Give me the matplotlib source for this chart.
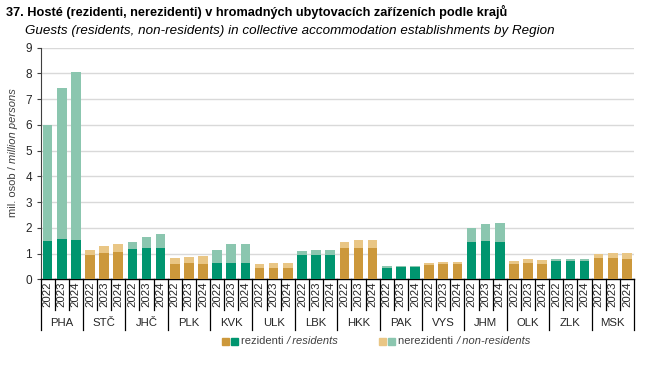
import matplotlib
matplotlib.use('Agg')
import matplotlib.pyplot as plt
import matplotlib.transforms as mtransforms
from matplotlib.patches import Rectangle
import numpy as np

regions = ['PHA', 'STČ', 'JHČ', 'PLK', 'KVK', 'ULK', 'LBK',
           'HKK', 'PAK', 'VYS', 'JHM', 'OLK', 'ZLK', 'MSK']
years = ['2022', '2023', '2024']

# mil. osob, per region: 2022, 2023, 2024
residents = [
    [1.47, 1.57, 1.54],
    [0.96, 1.02, 1.06],
    [1.19, 1.21, 1.23],
    [0.58, 0.62, 0.58],
    [0.64, 0.64, 0.64],
    [0.42, 0.42, 0.42],
    [0.96, 0.96, 0.96],
    [1.21, 1.23, 1.21],
    [0.43, 0.47, 0.47],
    [0.57, 0.60, 0.58],
    [1.45, 1.49, 1.43],
    [0.61, 0.65, 0.61],
    [0.71, 0.71, 0.71],
    [0.83, 0.83, 0.80],
]
totals = [
    [5.98, 7.43, 8.05],
    [1.14, 1.30, 1.36],
    [1.45, 1.65, 1.76],
    [0.83, 0.87, 0.91],
    [1.15, 1.36, 1.37],
    [0.60, 0.62, 0.65],
    [1.10, 1.15, 1.15],
    [1.45, 1.53, 1.53],
    [0.51, 0.53, 0.53],
    [0.64, 0.67, 0.69],
    [1.98, 2.15, 2.18],
    [0.71, 0.79, 0.75],
    [0.80, 0.80, 0.80],
    [1.00, 1.04, 1.04],
]

green_dark = '#00956f'
green_light = '#8bc6af'
gold_dark = '#cc983b'
gold_light = '#e9c685'

plt.rcParams['font.family'] = ['Liberation Sans', 'DejaVu Sans']

res = np.array(residents).ravel()
non = np.array(totals).ravel() - res
x = np.arange(len(res))
is_green = np.repeat([i % 2 == 0 for i in range(len(regions))], len(years))
c_dark = [green_dark if g else gold_dark for g in is_green]
c_light = [green_light if g else gold_light for g in is_green]

fig = plt.figure(figsize=(6.52, 3.88), dpi=100)
W, H = 652, 388
renderer = fig.canvas.get_renderer()


def fit_width(t, width_px):
    # shrink/grow font so the text spans width_px
    w = t.get_window_extent(renderer).width
    t.set_fontsize(t.get_fontsize() * width_px / w)


def chain(x0, y0, parts, vertical=False, **kw):
    # place text pieces one after another, in pixels from top-left
    pos = x0
    for s, style in parts:
        if not vertical:
            t = fig.text(pos / W, 1 - y0 / H, s, style=style, ha='left', va='center', **kw)
            pos += t.get_window_extent(renderer).width
        else:
            t = fig.text(y0 / W, 1 - pos / H, s, style=style, rotation=90,
                         ha='left', va='center', rotation_mode='anchor', **kw)
            pos -= t.get_window_extent(renderer).height


ax = fig.add_axes([40.5 / W, 1 - 279.3 / H, (634 - 40.5) / W, (279.3 - 47.5) / H])

ax.bar(x, res, width=0.68, color=c_dark, zorder=3)
ax.bar(x, non, bottom=res, width=0.68, color=c_light, zorder=3)

ax.set_xlim(-0.5, len(res) - 0.5)
ax.set_ylim(0, 9)
ax.set_yticks(range(0, 10))
ax.yaxis.grid(True, color='#d9d9d9', linewidth=1.0, zorder=0)
ax.tick_params(axis='y', labelsize=8.5, length=3, width=0.8, color='#404040',
               labelcolor='#262626', pad=3)
ax.set_xticks([])
for s in ['top', 'right']:
    ax.spines[s].set_visible(False)
ax.spines['left'].set_linewidth(0.8)
ax.spines['left'].set_color('#404040')
ax.spines['bottom'].set_linewidth(1.0)

# category axis: year row and region row with separators
tr = mtransforms.blended_transform_factory(ax.transData, ax.transAxes)
year_bottom = -0.133
group_bottom = -0.217
n = len(years)
for i in range(len(res) + 1):
    xb = i - 0.5
    yb = group_bottom if i % n == 0 else year_bottom
    ax.plot([xb, xb], [0, yb], color='black', linewidth=0.9,
            transform=tr, clip_on=False)
for i in range(len(res)):
    ax.text(i, -0.066, years[i % n], rotation=90, ha='center', va='center',
            fontsize=8.2, color='#262626', transform=tr)
for k, name in enumerate(regions):
    ax.text(k * n + (n - 1) / 2, -0.189, name, ha='center', va='center',
            fontsize=8.2, color='#262626', transform=tr)

t1 = fig.text(6 / W, 1 - 12 / H, '37. Hosté (rezidenti, nerezidenti) v hromadných ubytovacích zařízeních podle krajů',
              fontsize=10, fontweight='bold', ha='left', va='center')
fit_width(t1, 500)
t2 = fig.text(25 / W, 1 - 31 / H, 'Guests (residents, non-residents) in collective accommodation establishments by Region',
              fontsize=10, style='italic', ha='left', va='center')
fit_width(t2, 526)

# y label, mixed upright / italic, reading bottom to top
chain(217, 13, [('mil. osob / ', 'normal'), ('million persons', 'italic')],
      vertical=True, fontsize=8, color='#404040')

# legend
ly = 341
sq = 7
for xs, col in [(222, gold_dark), (231, green_dark), (379, gold_light), (388, green_light)]:
    fig.patches.append(Rectangle((xs / W, 1 - (ly + sq / 2) / H), sq / W, sq / H,
                                 color=col, transform=fig.transFigure))
chain(241, ly, [('rezidenti ', 'normal'), ('/ residents', 'italic')], fontsize=8, color='#404040')
chain(398, ly, [('nerezidenti ', 'normal'), ('/ non-residents', 'italic')], fontsize=8, color='#404040')

fig.savefig('out.png', dpi=100)
